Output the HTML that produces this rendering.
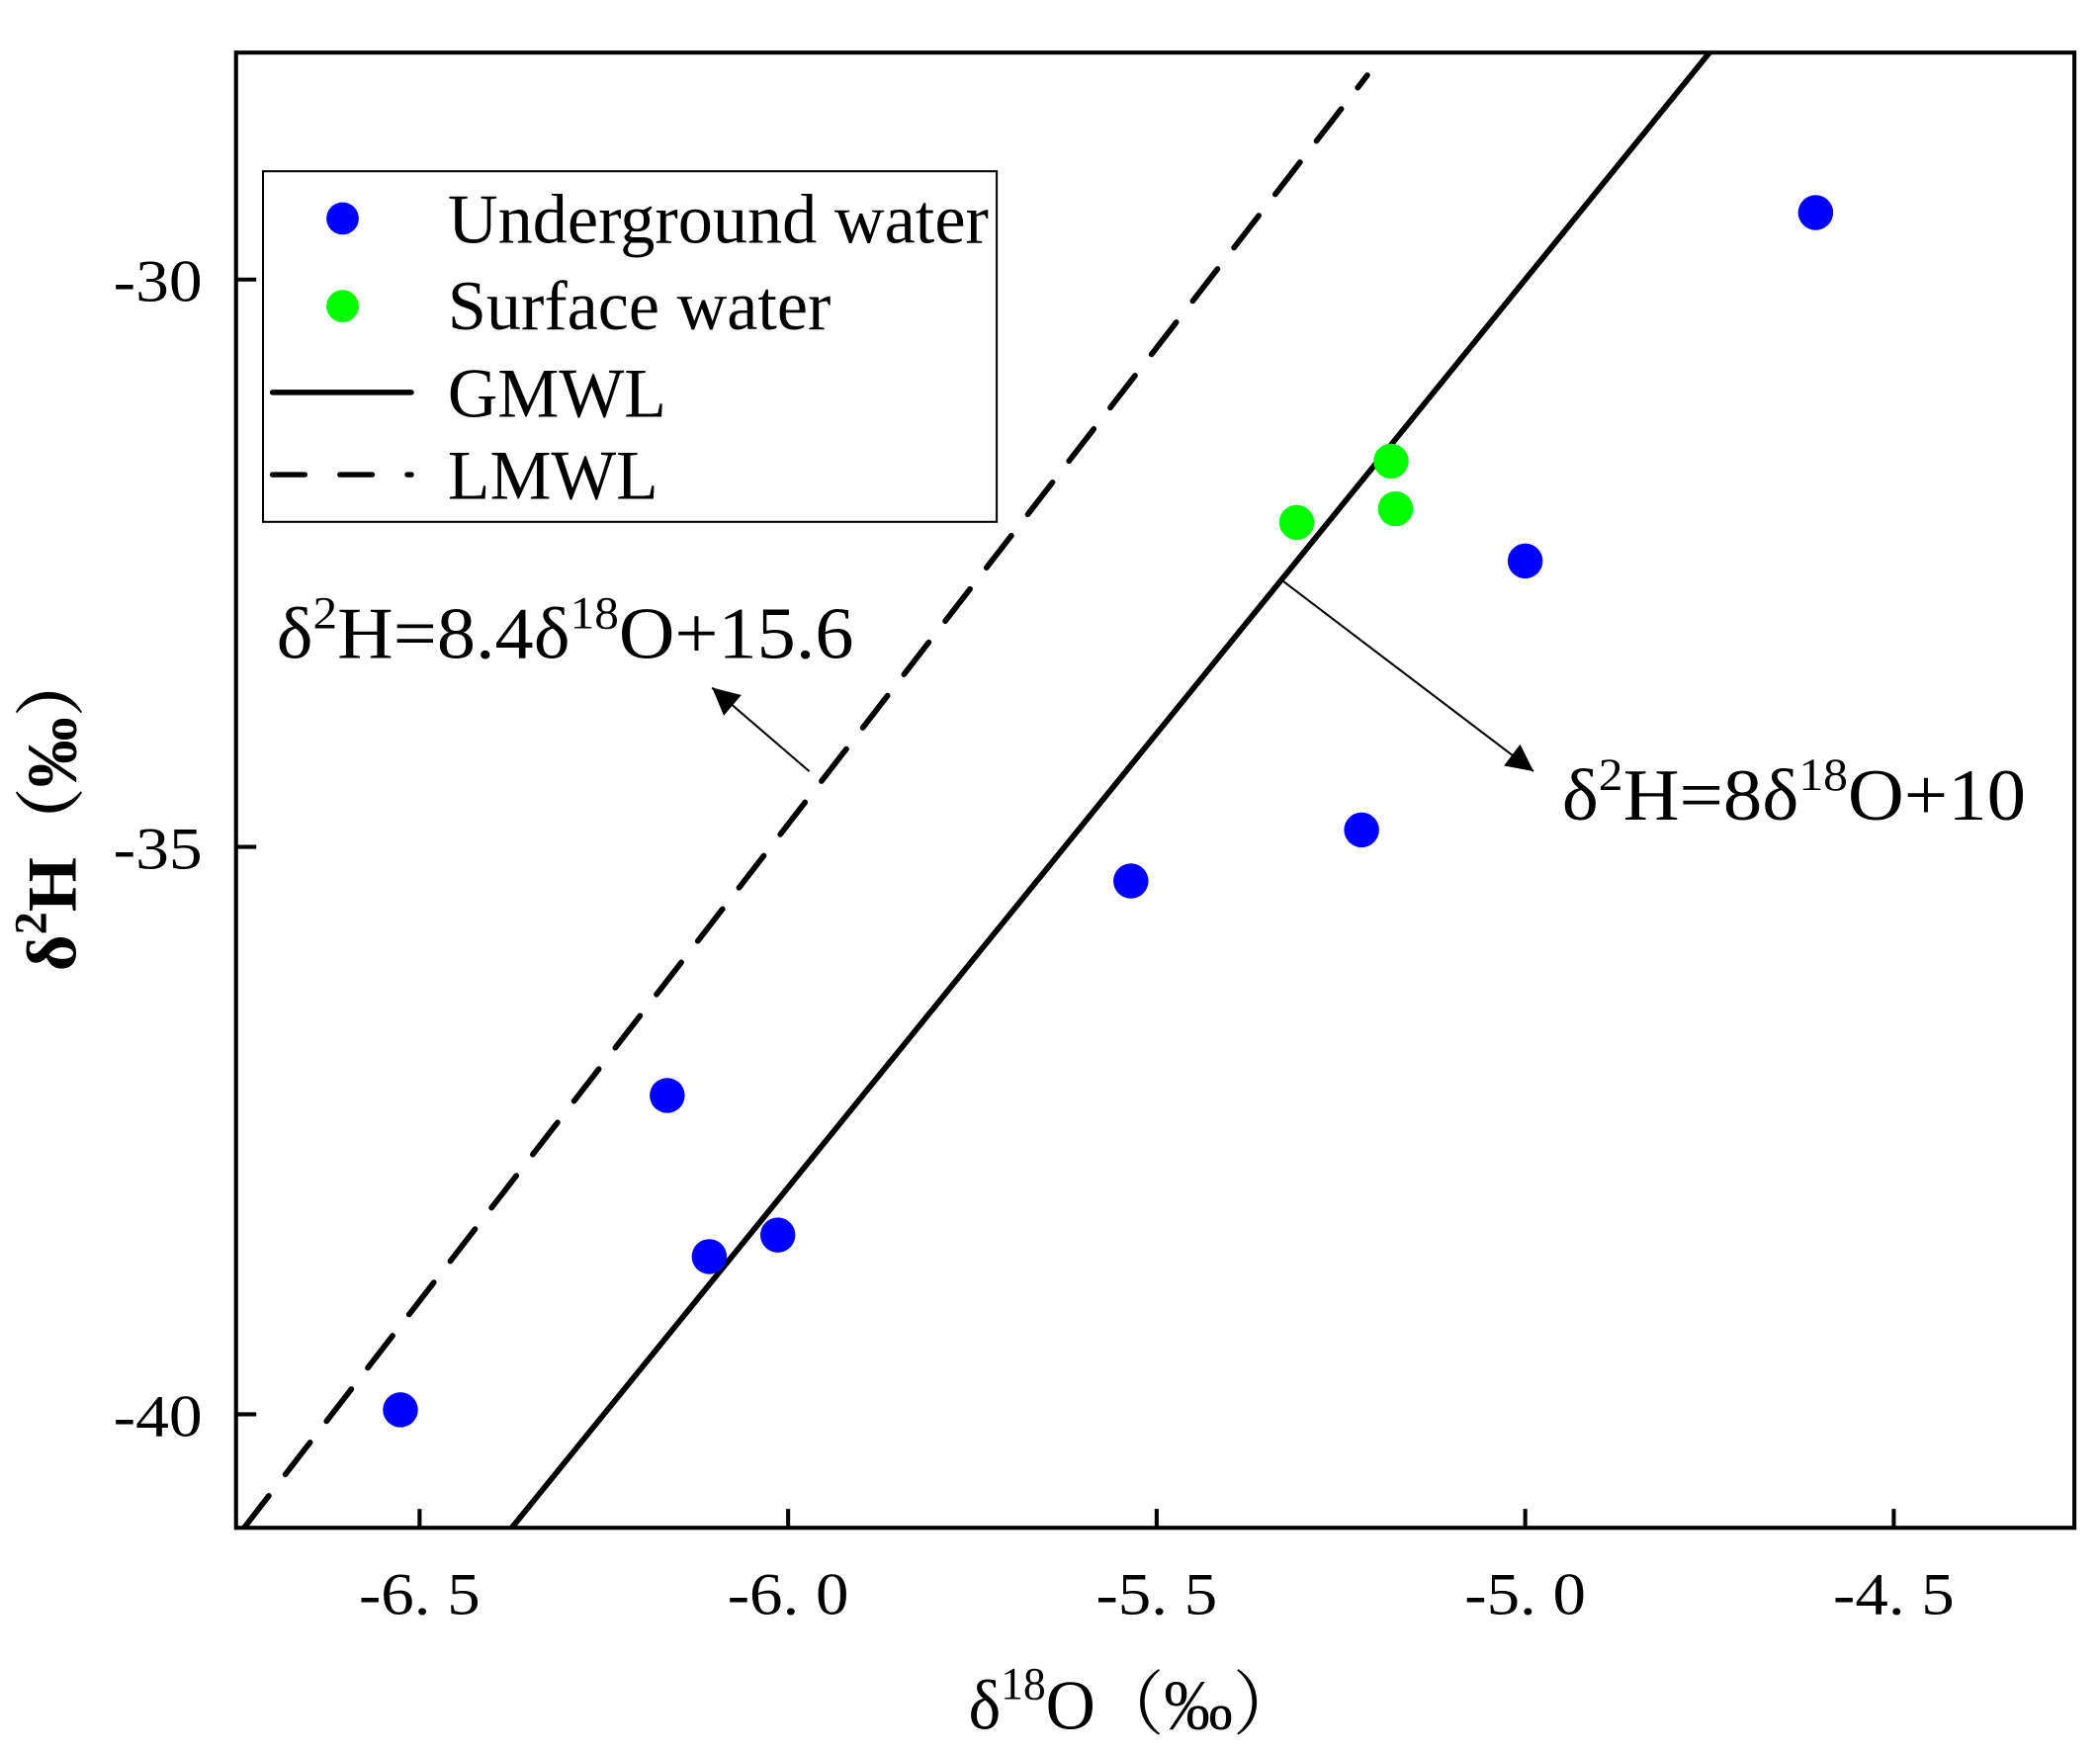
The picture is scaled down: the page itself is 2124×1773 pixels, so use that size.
<!DOCTYPE html>
<html><head><meta charset="utf-8"><style>
html,body{margin:0;padding:0;background:#fff}
svg{display:block}
text{font-family:"Liberation Serif","Noto Serif CJK SC",serif;fill:#000}
</style></head><body>
<svg id="chart" width="2124" height="1773" viewBox="0 0 1557 1300" preserveAspectRatio="none" xmlns="http://www.w3.org/2000/svg">
<rect x="0" y="0" width="1557" height="1300" fill="#fff"/>
<g id="plot"></g>
</svg>
<script>
const xTicks = [-6.5, -6.0, -5.5, -5.0, -4.5];
const xTickLabels = ["-6. 5", "-6. 0", "-5. 5", "-5. 0", "-4. 5"];
const yTicks = [-30, -35, -40];
const yTickLabels = ["-30", "-35", "-40"];
const groundX = [-6.526, -6.164, -6.107, -6.014, -5.535, -5.222, -5.0, -4.606];
const groundY = [-39.96, -37.19, -38.61, -38.42, -35.30, -34.85, -32.48, -29.41];
const surfaceX = [-5.31, -5.182, -5.176];
const surfaceY = [-32.14, -31.60, -32.02];
const gmwl = [8, 10];
const lmwl = [8.4, 15.6];

const NS = "http://www.w3.org/2000/svg";
const L = 175, R = 1538, T = 39, B = 1133;
const xMin = -6.749, xMax = -4.255, yMin = -41.0, yMax = -28.0;
function sx(v){ return L + (v - xMin) / (xMax - xMin) * (R - L); }
function sy(v){ return B - (v - yMin) / (yMax - yMin) * (B - T); }
const g = document.getElementById('plot');
function mk(tag, attrs, parent){
  const e = document.createElementNS(NS, tag);
  for (const k in attrs) e.setAttribute(k, attrs[k]);
  (parent || g).appendChild(e);
  return e;
}
const defs = mk('defs', {});
const cp = mk('clipPath', {id:'clip'}, defs);
mk('rect', {x:L, y:T, width:R-L, height:B-T}, cp);
const mrk = mk('marker', {id:'arr', viewBox:'0 0 10 10', refX:'10', refY:'5', markerWidth:'26', markerHeight:'20', markerUnits:'userSpaceOnUse', orient:'auto'}, defs);
mk('path', {d:'M0,0 L10,5 L0,10 z', fill:'#000'}, mrk);

function lineSeg(p, x0, x1, name, dash, yTop){
  let xa = Math.max(x0, (yMin - p[1]) / p[0]);
  let xb = x1;
  if (yTop !== undefined) xb = Math.min(xb, (yTop - p[1]) / p[0]);
  const ln = mk('line', {x1:sx(xa), y1:sy(p[0]*xa+p[1]), x2:sx(xb), y2:sy(p[0]*xb+p[1]), stroke:'#000', 'stroke-width':'4.2', 'clip-path':'url(#clip)'});
  if (dash) { ln.setAttribute('stroke-dasharray', dash); ln.setAttribute('stroke-linecap','round'); }
  
  
}
lineSeg(gmwl, xMin, xMax, 'gmwl-line', null, yMax);
lineSeg(lmwl, xMin, xMax, 'lmwl-line', '30 20', -28.2);

function pts(xs, ys, color, name){
  for (let i = 0; i < xs.length; i++){
    const c = mk('ellipse', {cx:sx(xs[i]), cy:sy(ys[i]), rx:'13', ry:'13', fill:color});
    
    
  }
}
pts(groundX, groundY, '#0000ff', 'underground-water-point');
pts(surfaceX, surfaceY, '#00ff00', 'surface-water-point');

const frame = mk('rect', {x:L, y:T, width:R-L, height:B-T, fill:'none', stroke:'#000', 'stroke-width':'3'});



for (let i = 0; i < xTicks.length; i++){
  const x = sx(xTicks[i]);
  const t = mk('line', {x1:x, y1:B, x2:x, y2:B-14, stroke:'#000', 'stroke-width':'3'});
  
  
  const tx = mk('text', {x:x, y:1197, 'text-anchor':'middle', 'font-size':'44', textLength:'90', lengthAdjust:'spacingAndGlyphs'});
  tx.textContent = xTickLabels[i];
  
  
}
for (let i = 0; i < yTicks.length; i++){
  const y = sy(yTicks[i]);
  const t = mk('line', {x1:L, y1:y, x2:L+15, y2:y, stroke:'#000', 'stroke-width':'3'});
  
  
  const tx = mk('text', {x:150, y:y+16, 'text-anchor':'end', 'font-size':'44', textLength:'66', lengthAdjust:'spacingAndGlyphs'});
  tx.textContent = yTickLabels[i];
  
  
}

const a1 = mk('line', {x1:600, y1:572, x2:528, y2:510, stroke:'#000', 'stroke-width':'1.5', 'marker-end':'url(#arr)'});


const a2 = mk('line', {x1:950, y1:430, x2:1137, y2:572, stroke:'#000', 'stroke-width':'1.5', 'marker-end':'url(#arr)'});


</script>

<svg style="position:absolute;left:0;top:0" width="2124" height="1773" viewBox="0 0 1557 1300" preserveAspectRatio="none" xmlns="http://www.w3.org/2000/svg">
<g>
<rect x="195" y="127" width="544" height="260" fill="#fff" stroke="#000" stroke-width="1.5"/>
<circle cx="254" cy="162" r="12" fill="#0000ff"/>
<text x="332" y="180" font-size="52" textLength="401" lengthAdjust="spacingAndGlyphs">Underground water</text>
<circle cx="254" cy="227" r="12" fill="#00ff00"/>
<text x="332" y="244" font-size="52" textLength="284" lengthAdjust="spacingAndGlyphs">Surface water</text>
<line x1="202" y1="291" x2="305" y2="291" stroke="#000" stroke-width="4" stroke-linecap="round"/>
<text x="332" y="309" font-size="52" textLength="162" lengthAdjust="spacingAndGlyphs">GMWL</text>
<line x1="202" y1="352" x2="305" y2="352" stroke="#000" stroke-width="4" stroke-linecap="round" stroke-dasharray="24 26"/>
<text x="332" y="370" font-size="52" textLength="156" lengthAdjust="spacingAndGlyphs">LMWL</text>
</g>
<text x="205" y="488" font-size="54" textLength="428" lengthAdjust="spacingAndGlyphs">δ<tspan font-size="34" dy="-22">2</tspan><tspan dy="22">H=8.4δ</tspan><tspan font-size="34" dy="-22">18</tspan><tspan dy="22">O+15.6</tspan></text>
<text x="1158" y="608" font-size="54" textLength="344" lengthAdjust="spacingAndGlyphs">δ<tspan font-size="34" dy="-22">2</tspan><tspan dy="22">H=8δ</tspan><tspan font-size="34" dy="-22">18</tspan><tspan dy="22">O+10</tspan></text>
<text x="718" y="1282" font-size="52" textLength="247" lengthAdjust="spacingAndGlyphs">δ<tspan font-size="34" dy="-22">18</tspan><tspan dy="22">O（‰）</tspan></text>
<text transform="translate(56,600) rotate(-90)" text-anchor="middle" font-size="52" font-weight="bold">δ<tspan font-size="34" dy="-22">2</tspan><tspan dy="22">H（‰）</tspan></text>
</svg>
</body></html>
